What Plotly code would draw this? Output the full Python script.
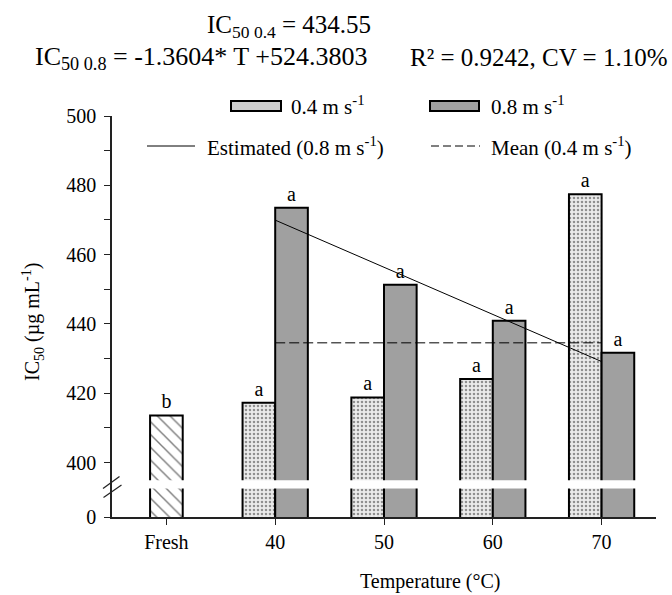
import plotly.graph_objects as go

# ---------------- data ----------------
categories = ["Fresh", "40", "50", "60", "70"]
temps = ["40", "50", "60", "70"]
fresh_value = [413.6]
fresh_letter = ["b"]
ic50_04 = [417.3, 418.8, 424.1, 477.4]
ic50_08 = [473.5, 451.3, 440.9, 431.7]
letters_04 = ["a", "a", "a", "a"]
letters_08 = ["a", "a", "a", "a"]
est_x = ["40", "70"]
est_y = [469.96, 429.15]
mean_x = ["40", "70"]
mean_y = [434.55, 434.55]
ytick_vals = [400, 420, 440, 460, 480, 500]
ytick_minor = [410, 430, 450, 470, 490]
zero_pos = 384.3          # position of "0" below the axis break
break_band = [392.5, 394.9]

FONT = "'Liberation Serif', 'Times New Roman', Times, serif"
W, H = 672, 595
ML, MR, MT, MB = 112, 16, 116, 78
PW, PH = W - ML - MR, H - MT - MB


def xp(px):
    return (px - ML) / PW


def yp(py):
    return (H - MB - py) / PH


fig = go.Figure()

fig.add_trace(go.Bar(
    x=["Fresh"], y=fresh_value, width=0.3, offset=-0.15,
    marker=dict(color="white", line=dict(color="black", width=2),
                pattern=dict(shape="\\", fgcolor="black", bgcolor="white",
                             size=9, solidity=0.16)),
    text=fresh_letter, textposition="outside", constraintext="none",
    textfont=dict(family=FONT, size=20, color="black"),
    cliponaxis=False, showlegend=False))

fig.add_trace(go.Bar(
    x=temps, y=ic50_04, width=0.3, offset=-0.3,
    marker=dict(color="#e6e6e6", line=dict(color="black", width=2),
                pattern=dict(shape=".", fgcolor="#333333", bgcolor="#ebebeb",
                             size=4, solidity=0.32)),
    text=letters_04, textposition="outside", constraintext="none",
    textfont=dict(family=FONT, size=20, color="black"),
    cliponaxis=False, showlegend=False))

fig.add_trace(go.Bar(
    x=temps, y=ic50_08, width=0.3, offset=0,
    marker=dict(color="#a0a0a0", line=dict(color="black", width=2)),
    text=letters_08, textposition="outside", constraintext="none",
    textfont=dict(family=FONT, size=20, color="black"),
    cliponaxis=False, showlegend=False))

fig.add_trace(go.Scatter(
    x=est_x, y=est_y, mode="lines",
    line=dict(color="black", width=1), showlegend=False))

fig.add_trace(go.Scatter(
    x=mean_x, y=mean_y, mode="lines",
    line=dict(color="black", width=1, dash="10px,4px"), showlegend=False))

shapes = []
# white band that breaks the bars
shapes.append(dict(type="rect", xref="paper", yref="y", x0=0.01, x1=1.0,
                   y0=break_band[0], y1=break_band[1],
                   fillcolor="white", line=dict(width=0), layer="above"))
# axis break marks
for (x0, y0, x1, y1) in [(103, 488.5, 119.5, 476.5), (103.5, 497.5, 121.5, 485)]:
    shapes.append(dict(type="line", xref="paper", yref="paper",
                       x0=xp(x0), y0=yp(y0), x1=xp(x1), y1=yp(y1),
                       line=dict(color="#222", width=1.2), layer="above"))
# legend swatches
shapes.append(dict(type="rect", xref="paper", yref="paper",
                   x0=xp(231), x1=xp(281), y0=yp(111), y1=yp(101),
                   fillcolor="#cfcfcf", line=dict(color="black", width=2)))
shapes.append(dict(type="rect", xref="paper", yref="paper",
                   x0=xp(430), x1=xp(479), y0=yp(111), y1=yp(101),
                   fillcolor="#a0a0a0", line=dict(color="black", width=2)))
shapes.append(dict(type="line", xref="paper", yref="paper",
                   x0=xp(147), x1=xp(195), y0=yp(146), y1=yp(146),
                   line=dict(color="black", width=1)))
shapes.append(dict(type="line", xref="paper", yref="paper",
                   x0=xp(431), x1=xp(480), y0=yp(146), y1=yp(146),
                   line=dict(color="black", width=1, dash="8px,4px")))

ann = []


def add_text(text, px, py, size, xanchor="left", angle=0):
    ann.append(dict(text=text, xref="paper", yref="paper", x=xp(px), y=yp(py),
                    xanchor=xanchor, yanchor="middle", showarrow=False,
                    textangle=angle,
                    font=dict(family=FONT, size=size, color="black")))


add_text("0.4 m s<sup>-1</sup>", 289, 105, 21)
add_text("0.8 m s<sup>-1</sup>", 489, 105, 21)
add_text("Estimated (0.8 m s<sup>-1</sup>)", 205, 146, 21)
add_text("Mean (0.4 m s<sup>-1</sup>)", 489, 146, 21)
add_text("IC<sub>50 0.4</sub> = 434.55", 289, 27, 25, xanchor="center")
add_text("IC<sub>50 0.8</sub> = -1.3604* T +524.3803", 33, 58, 26)
add_text("R² = 0.9242, CV = 1.10%", 669, 58, 25, xanchor="right")
add_text("IC<sub>50</sub> (µg mL<sup>-1</sup>)", 33, 322, 20, xanchor="center", angle=-90)
add_text("Temperature (°C)", 430, 581, 20, xanchor="center")

fig.update_layout(
    width=W, height=H,
    margin=dict(l=ML, r=MR, t=MT, b=MB, pad=0),
    paper_bgcolor="white", plot_bgcolor="white",
    barmode="overlay", showlegend=False,
    font=dict(family=FONT, size=20, color="black"),
    shapes=shapes, annotations=ann,
    xaxis=dict(type="category", categoryorder="array", categoryarray=categories,
               range=[-0.5, 4.5], showgrid=False, zeroline=False,
               showline=True, linecolor="#222", linewidth=1.5,
               ticks="outside", ticklen=6, tickcolor="#222", tickwidth=1.2,
               tickfont=dict(family=FONT, size=20, color="black")),
    yaxis=dict(range=[zero_pos, 500], showgrid=False, zeroline=False,
               showline=True, linecolor="#222", linewidth=1.5,
               tickmode="array", tickvals=[zero_pos] + ytick_vals,
               ticktext=["0"] + [str(v) for v in ytick_vals],
               ticks="outside", ticklen=6, tickcolor="#222", tickwidth=1.2,
               ticklabelstandoff=4,
               tickfont=dict(family=FONT, size=20, color="black"),
               minor=dict(tickmode="array", tickvals=ytick_minor, ticks="outside",
                          ticklen=6, tickcolor="#222", tickwidth=1.2)),
)

fig.write_html("out.html",
               config={"displayModeBar": False},
               post_script="document.body.style.margin='0px';document.body.style.overflow='hidden';")
